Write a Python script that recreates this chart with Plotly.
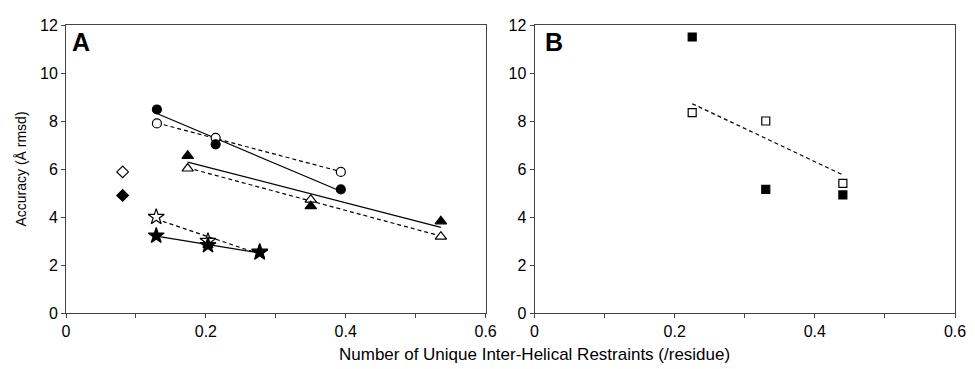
import numpy as np
import plotly.graph_objects as go

# Panel A data
circle_x = [0.130, 0.214, 0.393]
circle_filled_y = [8.48, 7.03, 5.15]
circle_open_y = [7.90, 7.30, 5.88]
tri_x = [0.174, 0.350, 0.536]
tri_filled_y = [6.55, 4.45, 3.82]
tri_open_y = [6.02, 4.72, 3.18]
star_x = [0.129, 0.203, 0.277]
star_filled_y = [3.22, 2.82, 2.52]
star_open_y = [4.00, 3.00, 2.55]
diamond_x = [0.081, 0.081]
diamond_filled_y = [4.90]
diamond_open_y = [5.88]

# Panel B data
sq_x = [0.225, 0.330, 0.440]
sq_filled_y = [11.50, 5.15, 4.92]
sq_open_y = [8.35, 8.00, 5.40]

x_ticks = [0, 0.1, 0.2, 0.3, 0.4, 0.5, 0.6]
x_ticktext = ["0", "", "0.2", "", "0.4", "", "0.6"]
y_ticks = [0, 2, 4, 6, 8, 10, 12]

FONT = "Liberation Sans"
fig = go.Figure()


def pts(x, y, sym, size, filled, xa, ya):
    fig.add_trace(go.Scatter(
        x=x, y=y, mode="markers", xaxis=xa, yaxis=ya, showlegend=False,
        marker=dict(symbol=sym, size=size, color="black" if filled else "white",
                    line=dict(color="black", width=1.2))))


def fit(x, y, dash, xa, ya):
    k, b = np.polyfit(x, y, 1)
    xs = [min(x), max(x)]
    fig.add_trace(go.Scatter(
        x=xs, y=[k * v + b for v in xs], mode="lines", xaxis=xa, yaxis=ya,
        showlegend=False, line=dict(color="black", width=1.2, dash=dash)))


DASH = "4px,3px"
# Panel A
fit(circle_x, circle_filled_y, "solid", "x", "y")
fit(circle_x, circle_open_y, DASH, "x", "y")
fit(tri_x, tri_filled_y, "solid", "x", "y")
fit(tri_x, tri_open_y, DASH, "x", "y")
fit(star_x, star_filled_y, "solid", "x", "y")
fit(star_x, star_open_y, DASH, "x", "y")
pts(circle_x, circle_open_y, "circle", 9, False, "x", "y")
pts(circle_x, circle_filled_y, "circle", 9, True, "x", "y")
pts(tri_x, tri_open_y, "triangle-up", 10, False, "x", "y")
pts(tri_x, tri_filled_y, "triangle-up", 10, True, "x", "y")
pts(star_x, star_open_y, "star", 12, False, "x", "y")
pts(star_x, star_filled_y, "star", 12, True, "x", "y")
pts(diamond_x[:1], diamond_filled_y, "diamond", 9, True, "x", "y")
pts(diamond_x[1:], diamond_open_y, "diamond", 9, False, "x", "y")

# Panel B
fit(sq_x, sq_open_y, DASH, "x2", "y2")
pts(sq_x, sq_filled_y, "square", 8, True, "x2", "y2")
pts(sq_x, sq_open_y, "square", 8, False, "x2", "y2")

xcommon = dict(range=[0, 0.6], tickvals=x_ticks, ticktext=x_ticktext, ticks="outside",
               ticklen=4, tickcolor="#444", showline=True, linecolor="#444", linewidth=1,
               mirror=True, showgrid=False, zeroline=False,
               tickfont=dict(family=FONT, size=16, color="black"))
ycommon = dict(range=[0, 12], tickvals=y_ticks, ticks="outside", ticklen=4, tickcolor="#444",
               showline=True, linecolor="#444", linewidth=1, mirror=True, showgrid=False,
               zeroline=False, tickfont=dict(family=FONT, size=16, color="black"))

# page has an 8px body margin, so the figure is 8px smaller and margins shifted by 8px
fig.update_layout(
    width=967, height=361,
    font=dict(family=FONT, size=16, color="black"),
    margin=dict(l=58, r=9, t=15, b=56),
    paper_bgcolor="white", plot_bgcolor="white",
    xaxis=dict(domain=[0, 0.472], anchor="y", **xcommon),
    yaxis=dict(domain=[0, 1], anchor="x",
               title=dict(text="Accuracy (Å rmsd)", font=dict(family=FONT, size=14, color="black"),
                          standoff=10), **ycommon),
    xaxis2=dict(domain=[0.527, 1], anchor="y2", **xcommon),
    yaxis2=dict(domain=[0, 1], anchor="x2", **ycommon),
    annotations=[
        dict(text="<b>A</b>", xref="x domain", yref="y domain", x=0.01, y=0.995,
             xanchor="left", yanchor="top", showarrow=False,
             font=dict(family=FONT, size=25, color="black")),
        dict(text="<b>B</b>", xref="x2 domain", yref="y2 domain", x=0.02, y=0.995,
             xanchor="left", yanchor="top", showarrow=False,
             font=dict(family=FONT, size=25, color="black")),
        dict(text="Number of Unique Inter-Helical Restraints (/residue)", xref="paper",
             yref="paper", x=0.527, y=-0.145, xanchor="center", yanchor="middle", showarrow=False,
             font=dict(family=FONT, size=17, color="black")),
    ],
)

fig.write_html("out.html")
